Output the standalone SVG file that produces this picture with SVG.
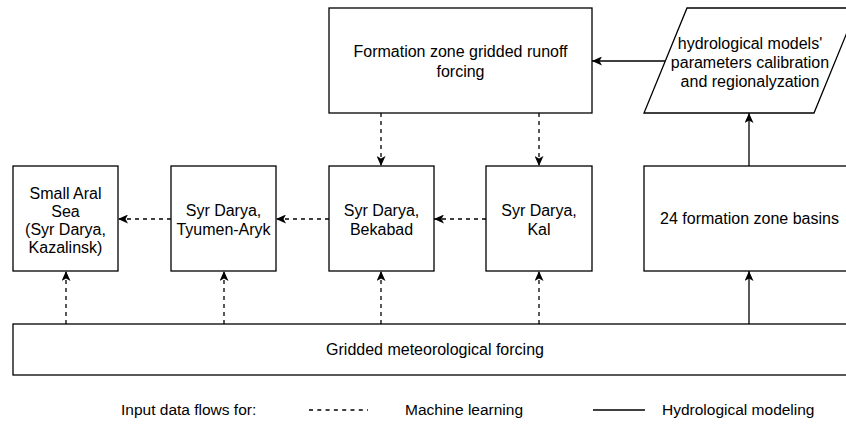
<svg xmlns="http://www.w3.org/2000/svg" width="846" height="428" viewBox="0 0 846 428">
<style>
.box{fill:#fff;stroke:#000;stroke-width:1.3}
.t{font-family:"Liberation Sans",Arial,sans-serif;font-size:16px;fill:#000;text-anchor:middle}
.lg{font-family:"Liberation Sans",Arial,sans-serif;font-size:15.5px;fill:#000}
.c{fill:none;stroke:#000;stroke-width:1.3}
.d{stroke-dasharray:4 4}
</style>
<defs>
<marker id="ah" viewBox="0 0 10 9" markerWidth="10" markerHeight="9" refX="10" refY="4.5" orient="auto" markerUnits="userSpaceOnUse">
<path d="M0,0 L10,4.5 L0,9 L2.5,4.5 Z" fill="#000" stroke="none"/>
</marker>
</defs>
<g id="formation">
<rect class="box" x="329" y="8" width="263" height="105"/>
<text class="t" x="460.5" y="57">Formation zone gridded runoff</text>
<text class="t" x="460.5" y="77">forcing</text>
</g>
<g id="calibration">
<polygon class="box" points="687,8 857,8 814,113 644,113"/>
<text class="t" x="750" y="48.5">hydrological models'</text>
<text class="t" x="750" y="68">parameters calibration</text>
<text class="t" x="750" y="87">and regionalyzation</text>
</g>
<g id="aral">
<rect class="box" x="13" y="166" width="105" height="105"/>
<text class="t" x="65.5" y="198.5">Small Aral</text>
<text class="t" x="65.5" y="216.5">Sea</text>
<text class="t" x="65.5" y="234.5">(Syr Darya,</text>
<text class="t" x="65.5" y="252.5">Kazalinsk)</text>
</g>
<g id="tyumen">
<rect class="box" x="171" y="166" width="105" height="105"/>
<text class="t" x="223.5" y="216">Syr Darya,</text>
<text class="t" x="223.5" y="235">Tyumen-Aryk</text>
</g>
<g id="bekabad">
<rect class="box" x="329" y="166" width="105" height="105"/>
<text class="t" x="381.5" y="216">Syr Darya,</text>
<text class="t" x="381.5" y="235">Bekabad</text>
</g>
<g id="kal">
<rect class="box" x="486" y="166" width="106" height="105"/>
<text class="t" x="539" y="216">Syr Darya,</text>
<text class="t" x="539" y="235">Kal</text>
</g>
<g id="basins">
<rect class="box" x="644" y="166" width="211" height="105"/>
<text class="t" x="749.5" y="224">24 formation zone basins</text>
</g>
<g id="meteo">
<rect class="box" x="13" y="324" width="844" height="51"/>
<text class="t" x="435" y="355">Gridded meteorological forcing</text>
</g>
<g id="connectors">
<path class="c d" d="M381,113 L381,166" marker-end="url(#ah)"/>
<path class="c d" d="M539,113 L539,166" marker-end="url(#ah)"/>
<path class="c" d="M665,61 L592,61" marker-end="url(#ah)"/>
<path class="c" d="M749,166 L749,113" marker-end="url(#ah)"/>
<path class="c d" d="M171,219 L118,219" marker-end="url(#ah)"/>
<path class="c d" d="M329,219 L276,219" marker-end="url(#ah)"/>
<path class="c d" d="M486,219 L434,219" marker-end="url(#ah)"/>
<path class="c d" d="M66,324 L66,271" marker-end="url(#ah)"/>
<path class="c d" d="M224,324 L224,271" marker-end="url(#ah)"/>
<path class="c d" d="M381,324 L381,271" marker-end="url(#ah)"/>
<path class="c d" d="M539,324 L539,271" marker-end="url(#ah)"/>
<path class="c" d="M749,324 L749,271" marker-end="url(#ah)"/>
</g>
<g id="legend">
<text class="lg" x="121" y="415">Input data flows for:</text>
<path class="c" d="M309,410 L368,410" stroke-width="1" stroke-dasharray="4 4.3"/>
<text class="lg" x="405" y="415">Machine learning</text>
<path class="c" d="M593,410 L645,410" stroke-width="1.2"/>
<text class="lg" x="662" y="415">Hydrological modeling</text>
</g>
</svg>
